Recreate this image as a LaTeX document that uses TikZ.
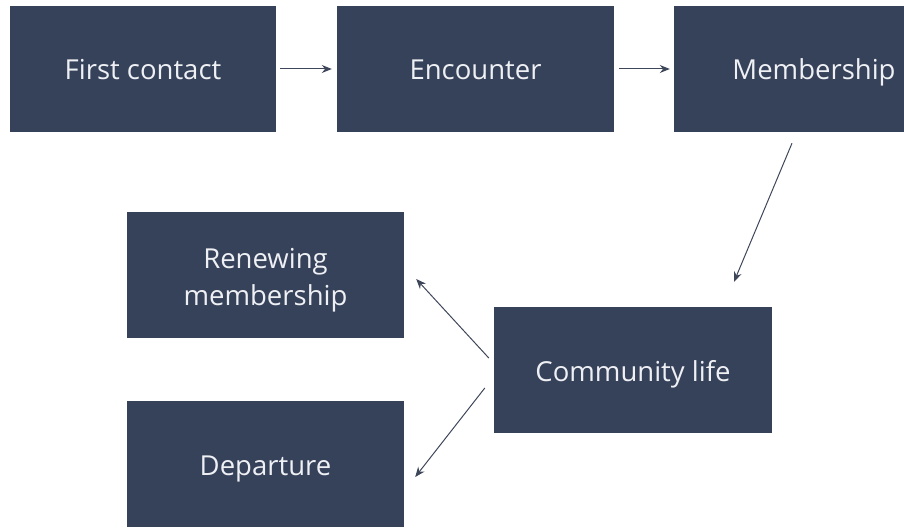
\documentclass[tikz,border=0pt]{standalone}
\usepackage{fontspec}
\setmainfont{Open Sans}
\usetikzlibrary{arrows.meta}
\definecolor{boxblue}{HTML}{36415A}
\definecolor{boxtext}{HTML}{EEF0F4}
\definecolor{arrowgray}{HTML}{3E475A}

\begin{document}
\begin{tikzpicture}[x=1pt,y=-1pt,
    stage/.style={rectangle, fill=boxblue, text=boxtext, align=center,
      minimum width=277pt, minimum height=126pt, inner sep=0pt,
      font=\fontsize{27.5}{37}\selectfont},
    oneline/.style={text height=28pt, text depth=6pt},
    flow/.style={-{Stealth[length=10pt,width=8pt]}, arrowgray, line width=1pt}]
      \clip (0,0) rectangle (904,529);

      % top row
      \node[stage, oneline, minimum width=266pt] (first) at (143,69) {First contact};
      \node[stage, oneline] (enc) at (475.5,69) {Encounter};
      \node[stage, oneline, minimum width=280pt] (mem) at (814,69) {Membership};

      % lower part
      \node[stage, text height=66pt, text depth=6pt] (renew) at (265.5,275) {Renewing\\membership};
      \node[stage, oneline, minimum width=278pt] (comm) at (633,370) {Community life};
      \node[stage, oneline] (dep) at (265.5,464) {Departure};

      \draw[flow] ([xshift=4pt]first.east) -- ([xshift=-5pt]enc.west);
      \draw[flow] ([xshift=5pt]enc.east) -- ([xshift=-4pt]mem.west);
      \draw[flow] ([shift={(-22,11)}]mem.south) -- ([shift={(101,-25)}]comm.north);
      \draw[flow] ([shift={(-5,-12)}]comm.west) -- ([shift={(12,4)}]renew.east);
      \draw[flow] ([shift={(-9,18)}]comm.west) -- ([shift={(11,13)}]dep.east);
    \end{tikzpicture}
\end{document}
